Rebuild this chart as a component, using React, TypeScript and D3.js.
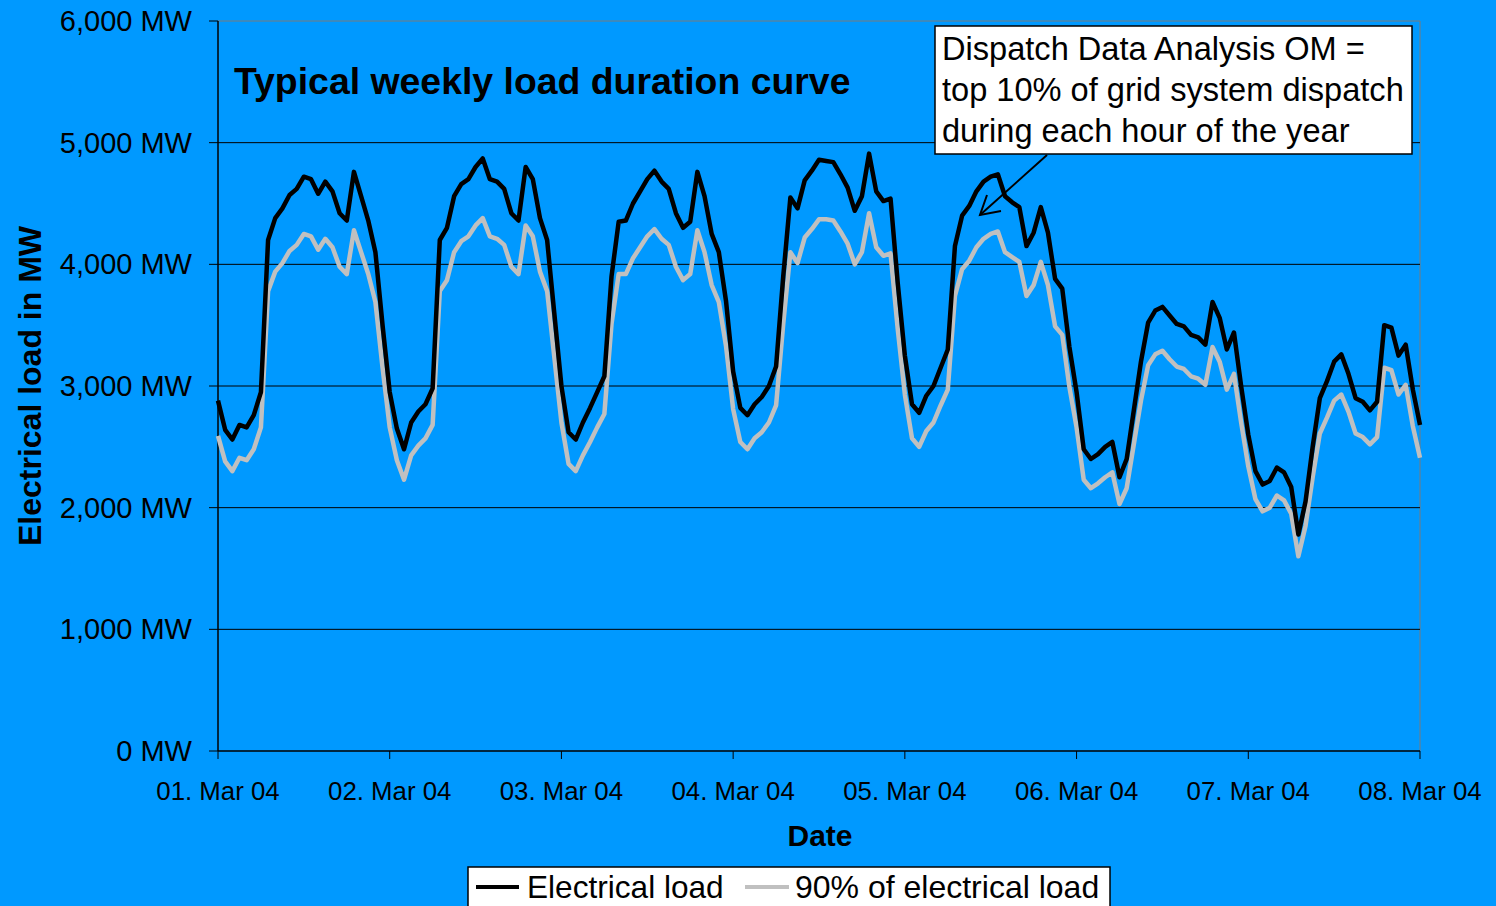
import React from "react";
import * as d3 from "d3";

// Hourly electrical load, 01 Mar 04 00:00 .. 08 Mar 04 00:00 (MW)
const electricalLoad: number[] = [
  2880, 2640, 2560, 2680, 2660, 2760, 2950, 4200, 4380, 4460, 4570, 4620, 4720, 4700, 4580, 4680, 4600, 4420, 4360, 4760, 4560, 4360, 4100, 3500,
  2950, 2650, 2480, 2700, 2790, 2850, 2980, 4200, 4300, 4560, 4660, 4700, 4800, 4870, 4700, 4680, 4620, 4420, 4360, 4800, 4700, 4380, 4200, 3600,
  3000, 2620, 2560, 2700, 2820, 2950, 3080, 3900, 4350, 4360, 4500, 4600, 4700, 4770, 4680, 4620, 4420, 4300, 4350, 4760, 4560, 4250, 4100, 3700,
  3120, 2820, 2760, 2850, 2910, 3000, 3160, 3900, 4550, 4460, 4690, 4770, 4860, 4850, 4840, 4740, 4630, 4440, 4560, 4910, 4600, 4520, 4540, 3850,
  3250, 2850, 2780, 2920, 3000, 3150, 3300, 4150, 4400, 4480, 4600, 4680, 4720, 4740, 4560, 4510, 4470, 4150, 4260, 4470, 4260, 3880, 3800, 3320,
  2950, 2480, 2400, 2440, 2500, 2540, 2250, 2400, 2800, 3200, 3520, 3620, 3650, 3580, 3510, 3490, 3420, 3400, 3340, 3690, 3560, 3300, 3440, 3000,
  2600, 2300, 2190, 2220, 2330, 2290, 2170, 1780, 2050, 2500, 2900, 3040, 3200, 3260, 3100, 2900, 2870, 2800, 2870, 3500, 3480, 3250, 3340, 2970,
  2680,
];

// 90% of electrical load (MW)
const load90: number[] = [
  2590, 2380, 2300, 2410, 2390, 2480, 2660, 3780, 3940, 4010, 4110, 4160, 4250, 4230, 4120, 4210, 4140, 3980, 3920, 4280, 4100, 3920, 3690, 3150,
  2660, 2390, 2230, 2430, 2510, 2570, 2680, 3780, 3870, 4100, 4190, 4230, 4320, 4380, 4230, 4210, 4160, 3980, 3920, 4320, 4230, 3940, 3780, 3240,
  2700, 2360, 2300, 2430, 2540, 2660, 2770, 3510, 3920, 3920, 4050, 4140, 4230, 4290, 4210, 4160, 3980, 3870, 3920, 4280, 4100, 3830, 3690, 3330,
  2810, 2540, 2480, 2570, 2620, 2700, 2840, 3510, 4100, 4010, 4220, 4290, 4370, 4370, 4360, 4270, 4170, 4000, 4100, 4420, 4140, 4070, 4090, 3470,
  2930, 2570, 2500, 2630, 2700, 2840, 2970, 3740, 3960, 4030, 4140, 4210, 4250, 4270, 4100, 4060, 4020, 3740, 3830, 4020, 3830, 3490, 3420, 2990,
  2660, 2230, 2160, 2200, 2250, 2290, 2030, 2160, 2520, 2880, 3170, 3260, 3290, 3220, 3160, 3140, 3080, 3060, 3010, 3320, 3200, 2970, 3100, 2700,
  2340, 2070, 1970, 2000, 2100, 2060, 1950, 1600, 1850, 2250, 2610, 2740, 2880, 2930, 2790, 2610, 2580, 2520, 2580, 3150, 3130, 2930, 3010, 2670,
  2410,
];

const dayLabels: string[] = [
  "01. Mar 04", "02. Mar 04", "03. Mar 04", "04. Mar 04",
  "05. Mar 04", "06. Mar 04", "07. Mar 04", "08. Mar 04",
];
const yTicks: number[] = [0, 1000, 2000, 3000, 4000, 5000, 6000];

const titleText = "Typical weekly load duration curve";
const annotationLines: string[] = [
  "Dispatch Data Analysis OM =",
  "top 10% of grid system dispatch",
  "during each hour of the year",
];
const legendLabels: string[] = ["Electrical load", "90% of electrical load"];

const W = 1496;
const H = 906;
const FONT = "'Liberation Sans', Arial, Helvetica, sans-serif";

export default function App() {
  const left = 218, right = 1420, top = 21, bottom = 751;
  const x = d3.scaleLinear().domain([0, 168]).range([left, right]);
  const y = d3.scaleLinear().domain([0, 6000]).range([bottom, top]);
  const line = d3
    .line<number>()
    .x((_, i) => x(i))
    .y((d) => y(d));
  const fmt = d3.format(",");

  return (
    <svg
      width={W}
      height={H}
      style={{ position: "absolute", left: 0, top: 0, display: "block" }}
      fontFamily={FONT}
    >
      <rect x={0} y={0} width={W} height={H} fill="#0099ff" />

      {/* plot border (top/right) */}
      <line x1={left} x2={right} y1={top} y2={top} stroke="#7a7a7a" strokeWidth={1} />
      <line x1={right} x2={right} y1={top} y2={bottom} stroke="#7a7a7a" strokeWidth={1} />

      {/* grid lines */}
      {yTicks
        .filter((t) => t > 0 && t < 6000)
        .map((t) => (
          <line key={t} x1={left} x2={right} y1={y(t)} y2={y(t)} stroke="#000" strokeWidth={1} />
        ))}

      {/* y ticks and labels */}
      {yTicks.map((t) => (
        <g key={"yt" + t}>
          <line x1={left - 9} x2={left} y1={y(t)} y2={y(t)} stroke="#000" strokeWidth={1} />
          <text x={192} y={y(t) + 10} fontSize={29} textAnchor="end" fill="#000">
            {fmt(t) + " MW"}
          </text>
        </g>
      ))}

      {/* x ticks and labels */}
      {dayLabels.map((lab, i) => (
        <g key={lab}>
          <line x1={x(i * 24)} x2={x(i * 24)} y1={bottom} y2={bottom + 8} stroke="#000" strokeWidth={1} />
          <text x={x(i * 24)} y={800} fontSize={25.8} textAnchor="middle" fill="#000">
            {lab}
          </text>
        </g>
      ))}

      {/* axes */}
      <line x1={left} x2={left} y1={top} y2={bottom} stroke="#000" strokeWidth={1.5} />
      <line x1={left} x2={right} y1={bottom} y2={bottom} stroke="#000" strokeWidth={1.5} />

      {/* series */}
      <path d={line(load90) || ""} fill="none" stroke="#c0c0c0" strokeWidth={4.5} strokeLinejoin="round" />
      <path d={line(electricalLoad) || ""} fill="none" stroke="#000" strokeWidth={4.5} strokeLinejoin="round" />

      {/* title */}
      <text x={234} y={94} fontSize={37.4} fontWeight="bold" fill="#000">
        {titleText}
      </text>

      {/* axis titles */}
      <text x={820} y={846} fontSize={30} fontWeight="bold" textAnchor="middle" fill="#000">
        Date
      </text>
      <text
        transform="translate(41,386) rotate(-90)"
        fontSize={32}
        fontWeight="bold"
        textAnchor="middle"
        fill="#000"
      >
        Electrical load in MW
      </text>

      {/* annotation */}
      <rect x={935} y={26} width={477} height={128} fill="#fff" stroke="#000" strokeWidth={1.5} />
      {annotationLines.map((l, i) => (
        <text key={i} x={942} y={60 + i * 41} fontSize={32.6} fill="#000">
          {l}
        </text>
      ))}
      <line x1={1047} y1={155} x2={980} y2={215} stroke="#000" strokeWidth={2} />
      <polyline points="987,195 980,215 1001,211" fill="none" stroke="#000" strokeWidth={2} />

      {/* legend */}
      <rect x={468} y={867} width={642} height={60} fill="#fff" stroke="#000" strokeWidth={1.5} />
      <line x1={476} x2={519} y1={887} y2={887} stroke="#000" strokeWidth={4} />
      <text x={527} y={898} fontSize={31.6} fill="#000">
        {legendLabels[0]}
      </text>
      <line x1={745} x2={789} y1={887} y2={887} stroke="#c0c0c0" strokeWidth={4} />
      <text x={795} y={898} fontSize={32} fill="#000">
        {legendLabels[1]}
      </text>
    </svg>
  );
}
